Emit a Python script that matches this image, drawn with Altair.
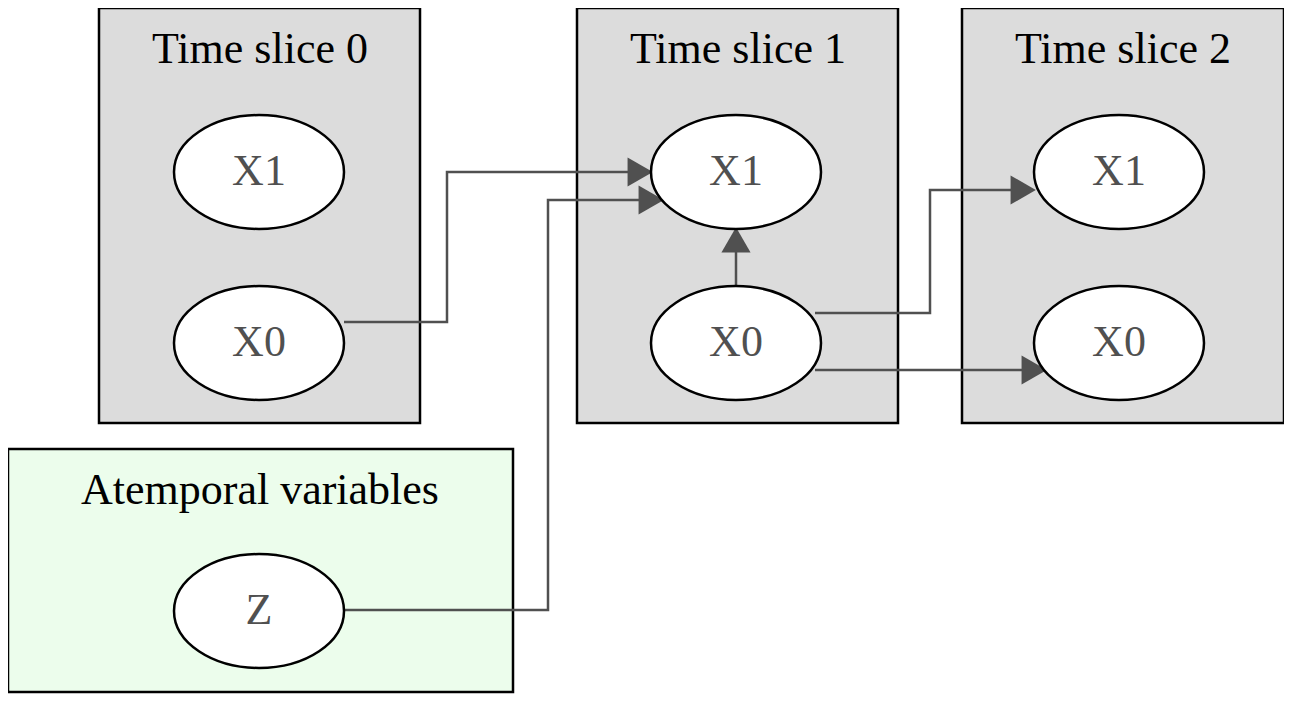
import pandas as pd
import altair as alt

# clusters: name, x0, x1, y0, y1, fill
cluster_names = ["Time slice 0", "Time slice 1", "Time slice 2", "Atemporal variables"]
cluster_x0 = [99, 577, 962, 8]
cluster_x1 = [420, 898, 1284, 513]
cluster_y0 = [8, 8, 8, 449]
cluster_y1 = [423, 423, 423, 692]
cluster_fill = ["#dcdcdc", "#dcdcdc", "#dcdcdc", "#ecfdec"]
cluster_tx = [260, 738, 1123, 260]
cluster_ty = [50, 50, 50, 491]

# nodes
node_labels = ["X1", "X0", "X1", "X0", "X1", "X0", "Z"]
node_x = [259, 259, 736, 736, 1119, 1119, 259]
node_y = [172, 343, 172, 343, 172, 343, 611]

# edges as polylines (edge id, x, y); last point is arrow centre
edge_id = [0, 0, 0, 0, 1, 1, 1, 1, 2, 2, 3, 3, 3, 3, 4, 4]
edge_x = [344, 447, 447, 634, 344, 548, 548, 645, 736, 736, 815, 930, 930, 1017, 815, 1028]
edge_y = [322, 322, 172, 172, 610, 610, 200, 200, 285, 245, 313, 313, 190, 190, 370, 370]

# arrowheads
arrow_x = [636, 647, 736, 1019, 1030]
arrow_y = [172, 200, 244, 190, 370]
arrow_angle = [90, 90, 0, 90, 90]

W, H = 1276, 688
xs = alt.Scale(domain=[8, 1284], range=[0, W])
ys = alt.Scale(domain=[8, 696], range=[0, H])
X = lambda f: alt.X(f, scale=xs, axis=None)
Y = lambda f: alt.Y(f, scale=ys, axis=None)

clusters = pd.DataFrame(dict(name=cluster_names, x0=cluster_x0, x1=cluster_x1,
                             y0=cluster_y0, y1=cluster_y1, fill=cluster_fill,
                             tx=cluster_tx, ty=cluster_ty))
nodes = pd.DataFrame(dict(label=node_labels, x=node_x, y=node_y))
edges = pd.DataFrame(dict(edge=edge_id, order=list(range(len(edge_id))), x=edge_x, y=edge_y))
arrows = pd.DataFrame(dict(x=arrow_x, y=arrow_y, angle=arrow_angle))

boxes = alt.Chart(clusters).mark_rect(stroke="black", strokeWidth=2.5).encode(
    x=X("x0:Q"), x2="x1:Q", y=Y("y0:Q"), y2="y1:Q",
    fill=alt.Fill("fill:N", scale=None))
titles = alt.Chart(clusters).mark_text(font="Liberation Serif", fontSize=44, color="black").encode(
    x=X("tx:Q"), y=Y("ty:Q"), text="name:N")

lines = alt.Chart(edges).mark_line(color="#505050", strokeWidth=2.5).encode(
    x=X("x:Q"), y=Y("y:Q"), detail="edge:N", order="order:Q")
heads = alt.Chart(arrows).mark_point(shape="triangle", filled=True, color="#505050",
                                     opacity=1, size=850).encode(
    x=X("x:Q"), y=Y("y:Q"), angle=alt.Angle("angle:Q", scale=None))

ellipse = "M -1,0 A 1,0.67 0 1,0 1,0 A 1,0.67 0 1,0 -1,0 Z"
ells = alt.Chart(nodes).mark_point(shape=ellipse, filled=True, fill="white", stroke="black",
                                   strokeWidth=2.5, opacity=1, size=170 * 170).encode(
    x=X("x:Q"), y=Y("y:Q"))
labels = alt.Chart(nodes).mark_text(font="Liberation Serif", fontSize=44, color="#505050").encode(
    x=X("x:Q"), y=Y("y:Q"), text="label:N")

chart = (boxes + titles + lines + heads + ells + labels).properties(
    width=W, height=H, padding=0, autosize="none").configure_view(stroke=None)
chart.save("out.html", embed_options={"renderer": "svg", "actions": False})
